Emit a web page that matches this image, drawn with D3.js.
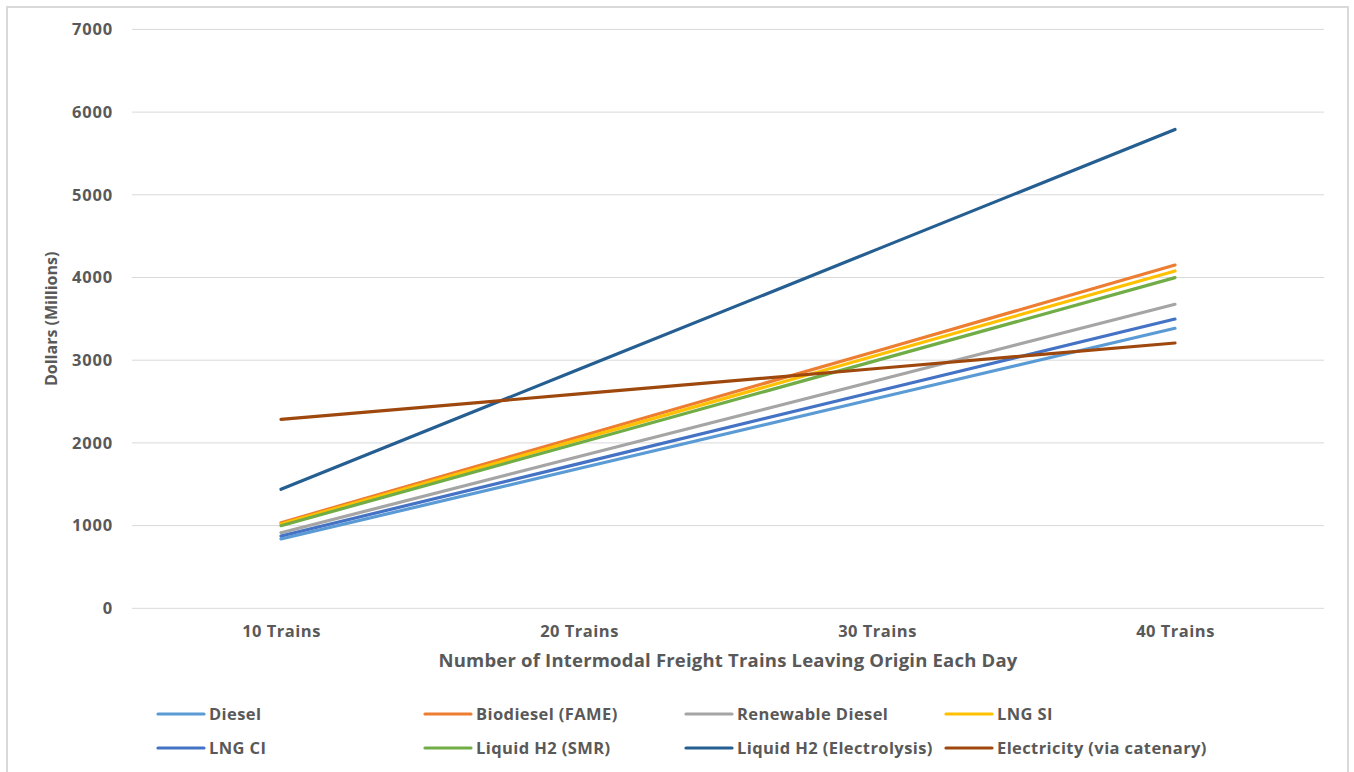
<!DOCTYPE html>
<html>
<head>
<meta charset="utf-8">
<script src="https://cdn.jsdelivr.net/npm/d3@7/dist/d3.min.js"></script>
<style>
  html, body { margin: 0; padding: 0; background: #fff; }
  svg { display: block; }
  text { font-family: "Open Sans", "DejaVu Sans", sans-serif; fill: #595959; font-weight: 700; }
</style>
</head>
<body>
<svg id="chart" width="1354" height="772"></svg>
<script>
// Categories along the x axis
const categories = ["10 Trains", "20 Trains", "30 Trains", "40 Trains"];

// Cost per fuel pathway, dollars (millions)
const diesel        = [838, 1690, 2540, 3386];
const biodiesel     = [1035, 2075, 3112, 4151];
const renewable     = [914, 1835, 2755, 3676];
const lngSI         = [1020, 2040, 3060, 4079];
const lngCI         = [874, 1750, 2625, 3498];
const h2SMR         = [999, 1999, 2998, 3998];
const h2Electrolysis = [1439, 2890, 4340, 5790];
const electricity   = [2285, 2592, 2900, 3208];

const seriesNames = ["Diesel", "Biodiesel (FAME)", "Renewable Diesel", "LNG SI",
                     "LNG CI", "Liquid H2 (SMR)", "Liquid H2 (Electrolysis)", "Electricity (via catenary)"];
const seriesValues = [diesel, biodiesel, renewable, lngSI, lngCI, h2SMR, h2Electrolysis, electricity];
const seriesColors = ["#5B9BD5", "#ED7D31", "#A5A5A5", "#FFC000",
                      "#4472C4", "#70AD47", "#255E91", "#9E480E"];

const yTicks = [0, 1000, 2000, 3000, 4000, 5000, 6000, 7000];

const svg = d3.select("#chart");

// Outer chart frame
svg.append("rect")
  .attr("x", 7).attr("y", 7).attr("width", 1341).attr("height", 780)
  .attr("fill", "#fff").attr("stroke", "#d9d9d9").attr("stroke-width", 2);

const plot = { left: 132, right: 1324, top: 29.4, bottom: 608.3 };

const x = d3.scalePoint().domain(categories)
  .range([plot.left, plot.right]).padding(0.5);
const y = d3.scaleLinear().domain([0, 7000]).range([plot.bottom, plot.top]);

// Horizontal gridlines
svg.append("g")
  .selectAll("line").data(yTicks).join("line")
  .attr("x1", plot.left).attr("x2", plot.right)
  .attr("y1", d => y(d)).attr("y2", d => y(d))
  .attr("stroke", "#d9d9d9").attr("stroke-width", 1);

// Y axis labels
const yAxis = d3.axisLeft(y).tickValues(yTicks).tickSize(0).tickPadding(0).tickFormat(d3.format("d"));
svg.append("g")
  .attr("transform", `translate(113,0)`)
  .call(yAxis)
  .call(g => g.select(".domain").remove())
  .call(g => g.selectAll("text")
    .attr("font-size", 16.5)
    .attr("letter-spacing", 0.8)
    .style("font-family", "'Open Sans', sans-serif")
    .style("font-weight", 700)
    .attr("fill", "#595959"));

// X axis labels
const xAxis = d3.axisBottom(x).tickSize(0).tickPadding(0);
svg.append("g")
  .attr("transform", `translate(0,626)`)
  .call(xAxis)
  .call(g => g.select(".domain").remove())
  .call(g => g.selectAll("text")
    .attr("dy", "0.32em").attr("y", 6)
    .attr("font-size", 16.5)
    .attr("letter-spacing", 0.5)
    .style("font-family", "'Open Sans', sans-serif")
    .style("font-weight", 700)
    .attr("fill", "#595959"));

// Axis titles
svg.append("text")
  .attr("x", 728).attr("y", 661)
  .attr("dy", "0.35em")
  .attr("text-anchor", "middle")
  .attr("font-size", 18.5)
  .attr("letter-spacing", 0.2)
  .text("Number of Intermodal Freight Trains Leaving Origin Each Day");

svg.append("text")
  .attr("transform", `translate(51,${(plot.top + plot.bottom) / 2}) rotate(-90)`)
  .attr("dy", "0.35em")
  .attr("text-anchor", "middle")
  .attr("font-size", 16)
  .text("Dollars (Millions)");

// Series lines
const line = d3.line()
  .x((d, i) => x(categories[i]))
  .y(d => y(d));

svg.append("g")
  .selectAll("path").data(seriesValues).join("path")
  .attr("d", d => line(d))
  .attr("fill", "none")
  .attr("stroke", (d, i) => seriesColors[i])
  .attr("stroke-width", 3.2)
  .attr("stroke-linecap", "round")
  .attr("stroke-linejoin", "round");

// Legend: two rows of four entries
const legendCols = [158, 425, 686, 946];
const legendRows = [714, 748];
const legend = svg.append("g")
  .selectAll("g").data(seriesNames).join("g")
  .attr("transform", (d, i) => `translate(${legendCols[i % 4]},${legendRows[Math.floor(i / 4)]})`);

legend.append("line")
  .attr("x1", 0).attr("x2", 46).attr("y1", 0).attr("y2", 0)
  .attr("stroke", (d, i) => seriesColors[i])
  .attr("stroke-width", 3.2)
  .attr("stroke-linecap", "round");

legend.append("text")
  .attr("x", 51).attr("y", 0).attr("dy", "0.35em")
  .attr("font-size", 16.5)
  .attr("letter-spacing", 0.4)
  .text(d => d);
</script>
</body>
</html>
